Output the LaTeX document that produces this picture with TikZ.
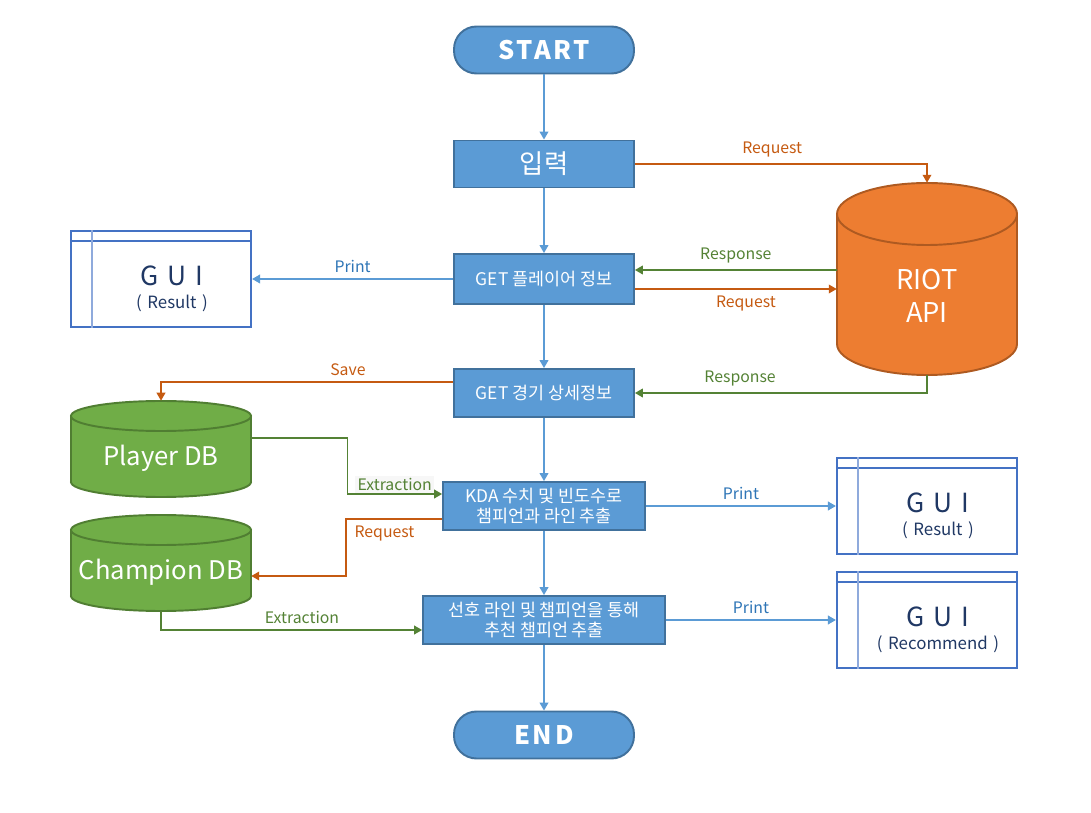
\documentclass[tikz,border=0pt]{standalone}
\usepackage{fontspec}
\setmainfont{Noto Sans CJK KR}
\usetikzlibrary{arrows.meta,calc}

\definecolor{boxblue}{HTML}{5B9BD5}
\definecolor{boxedge}{HTML}{41719C}
\definecolor{apiorange}{HTML}{ED7D31}
\definecolor{apiedge}{HTML}{AE5A21}
\definecolor{dbgreen}{HTML}{70AD47}
\definecolor{dbedge}{HTML}{507E32}
\definecolor{reqline}{HTML}{C55A11}
\definecolor{resline}{HTML}{548235}
\definecolor{guiedge}{HTML}{4472C4}
\definecolor{guiline}{HTML}{8FAADC}
\definecolor{guitxt}{HTML}{203864}
\definecolor{printblue}{HTML}{2E75B6}

\tikzset{
  terminal/.style={draw=boxedge, fill=boxblue, line width=1.1pt, rounded corners=0.45cm,
    minimum width=3.6cm, minimum height=0.94cm, text=white,
    font=\fontsize{14.5}{16}\selectfont\bfseries\addfontfeature{LetterSpace=10}},
  procbox/.style={draw=boxedge, fill=boxblue, line width=1.1pt, minimum width=3.6cm,
    minimum height=0.96cm, text=white, align=center, inner sep=2pt,
    font=\fontsize{9.9}{11.3}\selectfont},
  guibox/.style={draw=guiedge, line width=1.3pt, minimum width=3.6cm, minimum height=1.92cm},
  guitext/.style={text=guitxt, align=center, inner sep=0pt, font=\fontsize{9.6}{13}\selectfont},
  drumbox/.style={minimum width=3.6cm, minimum height=#1, inner sep=0pt},
  drumtext/.style={text=white, align=center, font=\fontsize{14.6}{18.7}\selectfont},
  lbl/.style={font=\fontsize{9}{10}\selectfont},
  flow/.style={color=boxblue, line width=0.7pt, -{Triangle[length=4.5pt,width=5pt]}},
  req/.style={color=reqline, line width=0.7pt, -{Triangle[length=4.5pt,width=5pt]}},
  res/.style={color=resline, line width=0.7pt, -{Triangle[length=4.5pt,width=5pt]}},
}

% cylinder: centre x, top y, bottom y, cap radius, fill, edge
\newcommand\drawdrum[6]{%
  \path[fill=#5, draw=#6, line width=1.1pt] (#1,#3-#4) ellipse[x radius=90, y radius=#4];
  \path[fill=#5] (#1-90,#2+#4) rectangle (#1+90,#3-#4);
  \draw[#6, line width=1.1pt] (#1-90,#2+#4) -- (#1-90,#3-#4) (#1+90,#2+#4) -- (#1+90,#3-#4);
  \path[fill=#5, draw=#6, line width=1.1pt] (#1,#2+#4) ellipse[x radius=90, y radius=#4];
}

\begin{document}
\begin{tikzpicture}[x=0.02cm,y=-0.02cm]
\useasboundingbox (0,0) rectangle (1091,813);

% main flow
\node[terminal] (start) at (544,50) {START};
\node[procbox, font=\fontsize{15}{16}\selectfont, minimum height=0.94cm] (in) at (544,164) {입력};
\node[procbox, minimum height=1.0cm] (gp) at (544,279) {GET 플레이어 정보};
\node[procbox] (gm) at (544,393) {GET 경기 상세정보};
\node[procbox, minimum width=4.04cm] (kda) at (544,506) {KDA 수치 및 빈도수로\\챔피언과 라인 추출};
\node[procbox, minimum width=4.84cm] (pr) at (544,620) {선호 라인 및 챔피언을 통해\\추천 챔피언 추출};
\node[terminal] (stop) at (544,735) {END};

% data stores
\drawdrum{927}{183}{375}{31}{apiorange}{apiedge}
\drawdrum{161}{401}{497}{15}{dbgreen}{dbedge}
\drawdrum{161}{515}{611}{15}{dbgreen}{dbedge}
\node[drumbox=3.84cm] (riot) at (927,279) {};
\node[drumtext, font=\fontsize{15.5}{18.7}\selectfont] (riottxt) at (927,296) {RIOT\\API};
\node[drumbox=1.92cm] (pdb) at (161,449) {};
\node[drumtext] (pdbtxt) at (161,458) {Player DB};
\node[drumbox=1.92cm] (cdb) at (161,563) {};
\node[drumtext] (cdbtxt) at (161,572) {Champion DB};

% screens
\node[guibox] (g1) at (161,279) {};
\node[guibox] (g2) at (927,506) {};
\node[guibox] (g3) at (927,620) {};
\foreach \g in {g1,g2,g3}{
    \draw[guiedge, line width=1.3pt] ($(\g.north west)+(0,11)$) -- ($(\g.north east)+(0,11)$);
    \draw[guiline, line width=1.3pt] ($(\g.north west)+(22,0)$) -- ($(\g.south west)+(22,0)$);
}
\node[guitext] (g1txt) at ($(g1.center)+(11,10)$) {{\fontsize{15}{13}\selectfont G\,\,U\,\,I}\\(\,\,Result\,\,)};
\node[guitext] (g2txt) at ($(g2.center)+(11,10)$) {{\fontsize{15}{13}\selectfont G\,\,U\,\,I}\\(\,\,Result\,\,)};
\node[guitext] (g3txt) at ($(g3.center)+(11,10)$) {{\fontsize{15}{13}\selectfont G\,\,U\,\,I}\\(\,\,Recommend\,\,)};

% connectors
\draw[flow] (start) -- (in);
\draw[flow] (in) -- (gp);
\draw[flow] (gp) -- (gm);
\draw[flow] (gm) -- (kda);
\draw[flow] (kda) -- (pr);
\draw[flow] (pr) -- (stop);

\draw[req] (in.east) -| node[lbl, pos=0.235, above] (l1) {Request} (riot.north);
\draw[res] ($(riot.west)+(0,-9)$) -- node[lbl, above] (l2) {Response} ($(gp.east)+(0,-9)$);
\draw[req] ($(gp.east)+(0,10)$) -- node[lbl, pos=0.55, below] (l3) {Request} ($(riot.west)+(0,10)$);
\draw[res] (riot.south) |- node[lbl, pos=0.82, above] (l4) {Response} (gm.east);
\draw[flow] (gp.west) -- node[lbl, above, text=printblue] (l5) {Print} (g1.east);
\draw[req] ($(gm.west)+(0,-11)$) -| node[lbl, pos=0.18, above] (l6) {Save} (pdb.north);
\draw[res] ($(pdb.east)+(0,-11)$) -- ++(96,0) |- node[lbl, pos=0.75, above, fill=black!3, inner sep=1.5pt] (l7) {Extraction} ($(kda.west)+(0,-12)$);
\draw[req] ($(kda.west)+(0,13)$) -- node[lbl, pos=0.6, below] (l8) {Request} ++(-96,0) |- ($(cdb.east)+(0,13)$);
\draw[res] (cdb.south) |- node[lbl, pos=0.77, above] (l9) {Extraction} ($(pr.west)+(0,10)$);
\draw[flow] (kda.east) -- node[lbl, above, text=printblue] (l10) {Print} (g2.west);
\draw[flow] (pr.east) -- node[lbl, above, text=printblue] (l11) {Print} (g3.west);

\end{tikzpicture}
\end{document}
